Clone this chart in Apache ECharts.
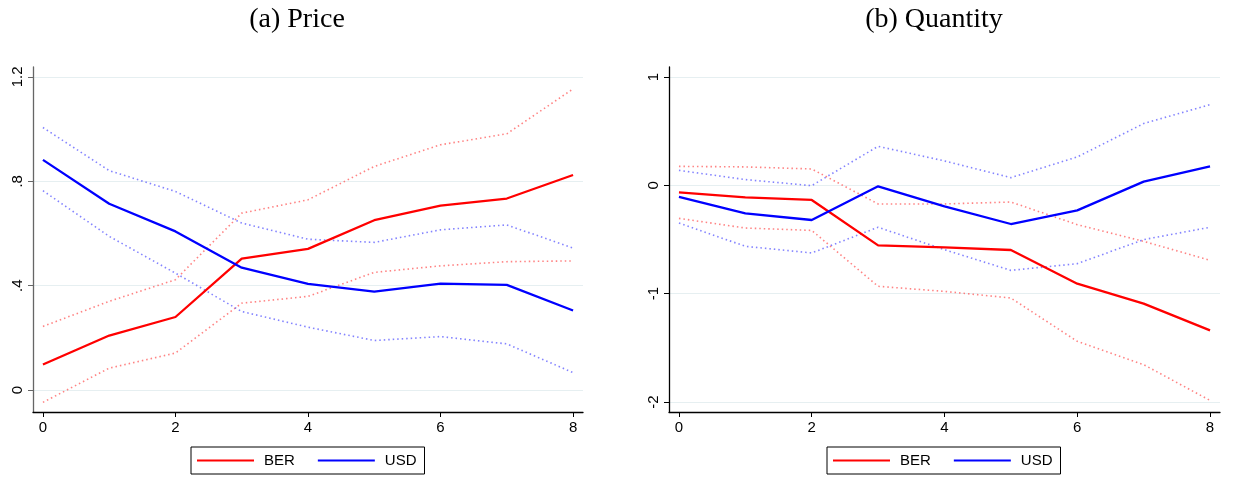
<!DOCTYPE html>
<html>
<head>
<meta charset="utf-8">
<script src="https://cdn.jsdelivr.net/npm/echarts@6/dist/echarts.min.js"></script>
<style>
  html, body { margin: 0; padding: 0; background: #fff; }
  #chart { width: 1234px; height: 495px; }
</style>
</head>
<body>
<div id="chart"></div>
<script>
// horizon 0..8
const horizon = [0, 1, 2, 3, 4, 5, 6, 7, 8];

// (a) Price
const priceBer = [0.098, 0.209, 0.280, 0.504, 0.541, 0.651, 0.707, 0.734, 0.824];
const priceBerHi = [0.244, 0.340, 0.423, 0.678, 0.729, 0.857, 0.940, 0.982, 1.154];
const priceBerLo = [-0.047, 0.084, 0.142, 0.333, 0.359, 0.451, 0.476, 0.492, 0.495];
const priceUsd = [0.882, 0.714, 0.608, 0.469, 0.407, 0.377, 0.408, 0.403, 0.305];
const priceUsdHi = [1.006, 0.841, 0.761, 0.640, 0.578, 0.566, 0.614, 0.633, 0.544];
const priceUsdLo = [0.764, 0.589, 0.448, 0.301, 0.241, 0.190, 0.205, 0.177, 0.067];

// (b) Quantity
const qtyBer = [-0.065, -0.111, -0.135, -0.554, -0.572, -0.597, -0.908, -1.092, -1.339];
const qtyBerHi = [0.175, 0.170, 0.151, -0.172, -0.172, -0.154, -0.363, -0.517, -0.692];
const qtyBerLo = [-0.305, -0.394, -0.416, -0.932, -0.979, -1.040, -1.440, -1.655, -1.985];
const qtyUsd = [-0.107, -0.258, -0.320, -0.009, -0.194, -0.357, -0.231, 0.034, 0.175];
const qtyUsdHi = [0.138, 0.053, -0.003, 0.360, 0.225, 0.071, 0.262, 0.570, 0.745];
const qtyUsdLo = [-0.347, -0.563, -0.624, -0.387, -0.594, -0.785, -0.723, -0.501, -0.387];

const xTicks = [0, 2, 4, 6, 8];
const priceTicks = [0, 0.4, 0.8, 1.2];
const qtyTicks = [-2, -1, 0, 1];

const pairs = (ys) => horizon.map((h, i) => [h, ys[i]]);

const labelFont = { fontFamily: 'Liberation Sans', fontSize: 15, color: '#000' };

function xAxisFor(gridIndex) {
  return {
    type: 'value', gridIndex, min: -0.15, max: 8.15,
    axisLine: { onZero: false, lineStyle: { color: '#000', width: 1.3 } },
    axisTick: { customValues: xTicks, length: 5, lineStyle: { color: '#000' } },
    axisLabel: { customValues: xTicks, margin: 8, ...labelFont },
    splitLine: { show: false }
  };
}

function yAxisFor(gridIndex, min, max, ticks, fmt, axisColor) {
  return {
    type: 'value', gridIndex, min, max,
    axisLine: { show: true, onZero: false, lineStyle: { color: axisColor, width: 1.3 } },
    axisTick: { show: true, customValues: ticks, length: 5, lineStyle: { color: axisColor } },
    axisLabel: { customValues: ticks, rotate: 90, margin: 8, formatter: fmt, ...labelFont },
    splitLine: { show: true, lineStyle: { color: '#e6eff1', width: 1.2 } }
  };
}

function solid(name, ys, color, idx) {
  return {
    name, type: 'line', data: pairs(ys), xAxisIndex: idx, yAxisIndex: idx,
    showSymbol: false, lineStyle: { color, width: 2.3 }, itemStyle: { color },
    z: 3, silent: true
  };
}

function band(name, ys, color, idx) {
  return {
    name, type: 'line', data: pairs(ys), xAxisIndex: idx, yAxisIndex: idx,
    showSymbol: false, lineStyle: { color, width: 1.6, type: [1.5, 3] },
    z: 2, silent: true
  };
}

const priceFmt = (v) => v === 0 ? '0' : String(+v.toFixed(1)).replace(/^0\./, '.');
const qtyFmt = (v) => String(v);

const legendBase = {
  data: ['BER', 'USD'], icon: 'rect', itemWidth: 57, itemHeight: 2, itemGap: 23,
  top: 447, padding: [6, 8, 6, 6], borderColor: '#000', borderWidth: 1,
  textStyle: { fontFamily: 'Liberation Sans', fontSize: 15, color: '#000', padding: [0, 0, 0, 5] },
  selectedMode: false
};

const titleFont = { fontFamily: 'Liberation Serif', fontSize: 28, fontWeight: 'normal', color: '#000' };

const chart = echarts.init(document.getElementById('chart'), null, { renderer: 'canvas' });
chart.setOption({
  animation: false,
  backgroundColor: '#fff',
  title: [
    { text: '(a) Price', left: 292, top: 1, textAlign: 'center', textStyle: titleFont },
    { text: '(b) Quantity', left: 929, top: 1, textAlign: 'center', textStyle: titleFont }
  ],
  legend: [
    { ...legendBase, left: 191 },
    { ...legendBase, left: 827 }
  ],
  grid: [
    { left: 33, right: 1234 - 583, top: 67, bottom: 495 - 412 },
    { left: 669, right: 1234 - 1220, top: 67, bottom: 495 - 412 }
  ],
  xAxis: [xAxisFor(0), xAxisFor(1)],
  yAxis: [
    yAxisFor(0, -0.084, 1.238, priceTicks, priceFmt, '#666'),
    yAxisFor(1, -2.092, 1.092, qtyTicks, qtyFmt, '#000')
  ],
  series: [
    band('BER hi', priceBerHi, 'rgba(255,90,90,0.75)', 0),
    band('BER lo', priceBerLo, 'rgba(255,90,90,0.75)', 0),
    band('USD hi', priceUsdHi, 'rgba(90,90,255,0.75)', 0),
    band('USD lo', priceUsdLo, 'rgba(90,90,255,0.75)', 0),
    solid('BER', priceBer, '#ff0000', 0),
    solid('USD', priceUsd, '#0000ff', 0),
    band('BER hi', qtyBerHi, 'rgba(255,90,90,0.75)', 1),
    band('BER lo', qtyBerLo, 'rgba(255,90,90,0.75)', 1),
    band('USD hi', qtyUsdHi, 'rgba(90,90,255,0.75)', 1),
    band('USD lo', qtyUsdLo, 'rgba(90,90,255,0.75)', 1),
    solid('BER', qtyBer, '#ff0000', 1),
    solid('USD', qtyUsd, '#0000ff', 1)
  ]
});
</script>
</body>
</html>
